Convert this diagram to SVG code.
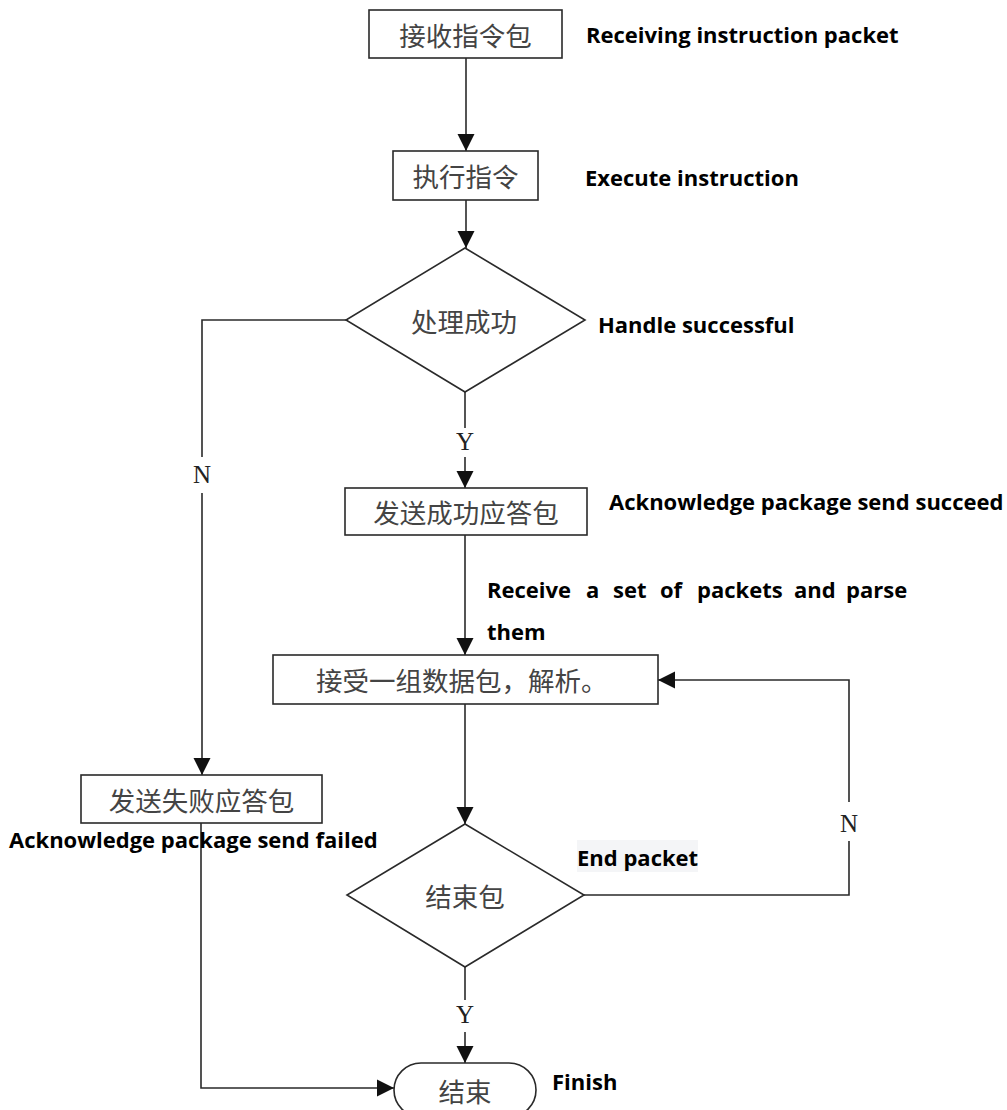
<svg xmlns="http://www.w3.org/2000/svg" width="1007" height="1110" viewBox="0 0 1007 1110">
<style>
.shape{fill:#ffffff;stroke:#2a2a2a;stroke-width:1.6}
.conn{fill:none;stroke:#2a2a2a;stroke-width:1.6}
.cn{font-family:"Noto Sans CJK SC","Noto Sans CJK TC",sans-serif;font-size:26.5px;fill:#444444;text-anchor:middle;dominant-baseline:central}
.en{font-family:"Open Sans","Noto Sans","Liberation Sans",sans-serif;font-weight:700;font-size:22px;fill:#000000}
.yn{font-family:"Liberation Serif","DejaVu Serif",serif;font-size:25px;fill:#222222;text-anchor:middle}
</style>
<defs>
<marker id="arr" markerUnits="userSpaceOnUse" markerWidth="18" markerHeight="18" viewBox="0 0 18 18" refX="17" refY="9" orient="auto">
<path d="M0,0.5 L17,9 L0,17.5 Z" fill="#111111"/>
</marker>
</defs>
<rect width="1007" height="1110" fill="#ffffff"/>

<g id="connectors">
<line class="conn" x1="466" y1="58" x2="466" y2="151" marker-end="url(#arr)"/>
<line class="conn" x1="466" y1="200" x2="466" y2="248" marker-end="url(#arr)"/>
<polyline class="conn" points="346,320 202,320 202,457"/>
<line class="conn" x1="202" y1="493" x2="202" y2="775" marker-end="url(#arr)"/>
<line class="conn" x1="465" y1="392" x2="465" y2="428"/>
<line class="conn" x1="465" y1="457" x2="465" y2="488" marker-end="url(#arr)"/>
<line class="conn" x1="465" y1="535" x2="465" y2="655" marker-end="url(#arr)"/>
<line class="conn" x1="465" y1="704" x2="465" y2="824" marker-end="url(#arr)"/>
<polyline class="conn" points="584,895 849,895 849,841"/>
<polyline class="conn" points="849,802 849,680 658,680" marker-end="url(#arr)"/>
<line class="conn" x1="465" y1="967" x2="465" y2="1000"/>
<line class="conn" x1="465" y1="1032" x2="465" y2="1063" marker-end="url(#arr)"/>
<polyline class="conn" points="201,823 201,1088 394,1088" marker-end="url(#arr)"/>
<text class="yn" x="202" y="483">N</text>
<text class="yn" x="465" y="450">Y</text>
<text class="yn" x="849" y="832">N</text>
<text class="yn" x="465" y="1023">Y</text>
</g>

<g id="node-receive">
<rect class="shape" x="369" y="10" width="193" height="48"/>
<text class="cn" x="465.5" y="34">接收指令包</text>
</g>
<g id="node-execute">
<rect class="shape" x="393" y="151" width="145" height="49"/>
<text class="cn" x="465.5" y="175.5">执行指令</text>
</g>
<g id="node-success-check">
<polygon class="shape" points="465,248 585,320 465,392 346,320"/>
<text class="cn" x="464" y="320">处理成功</text>
</g>
<g id="node-send-success">
<rect class="shape" x="345" y="488" width="242" height="47"/>
<text class="cn" x="466" y="511.5">发送成功应答包</text>
</g>
<g id="node-receive-data">
<rect class="shape" x="273" y="655" width="385" height="49"/>
<text class="cn" x="316" y="679.5" style="text-anchor:start">接受一组数据包，解析。</text>
</g>
<g id="node-send-fail">
<rect class="shape" x="81" y="775" width="241" height="48"/>
<text class="cn" x="201.5" y="799">发送失败应答包</text>
</g>
<g id="node-end-check">
<polygon class="shape" points="465,824 584,895 465,967 347,895"/>
<text class="cn" x="465" y="895">结束包</text>
</g>
<g id="node-finish">
<rect class="shape" x="394" y="1063" width="142" height="54" rx="27" ry="27"/>
<text class="cn" x="465" y="1090">结束</text>
</g>

<g id="labels">
<text class="en" x="586" y="43">Receiving instruction packet</text>
<text class="en" x="585" y="186">Execute instruction</text>
<text class="en" x="598" y="333">Handle successful</text>
<text class="en" x="609" y="510">Acknowledge package send succeed</text>
<text class="en" y="598"><tspan x="487">Receive</tspan><tspan x="586">a</tspan><tspan x="613">set</tspan><tspan x="660">of</tspan><tspan x="697">packets</tspan><tspan x="794">and</tspan><tspan x="846">parse</tspan></text>
<text class="en" x="487" y="640">them</text>
<text class="en" x="9" y="848">Acknowledge package send failed</text>
<rect x="577" y="840" width="121" height="32" fill="#f4f5f7"/>
<text class="en" x="577" y="866">End packet</text>
<text class="en" x="552" y="1090">Finish</text>
</g>
</svg>
